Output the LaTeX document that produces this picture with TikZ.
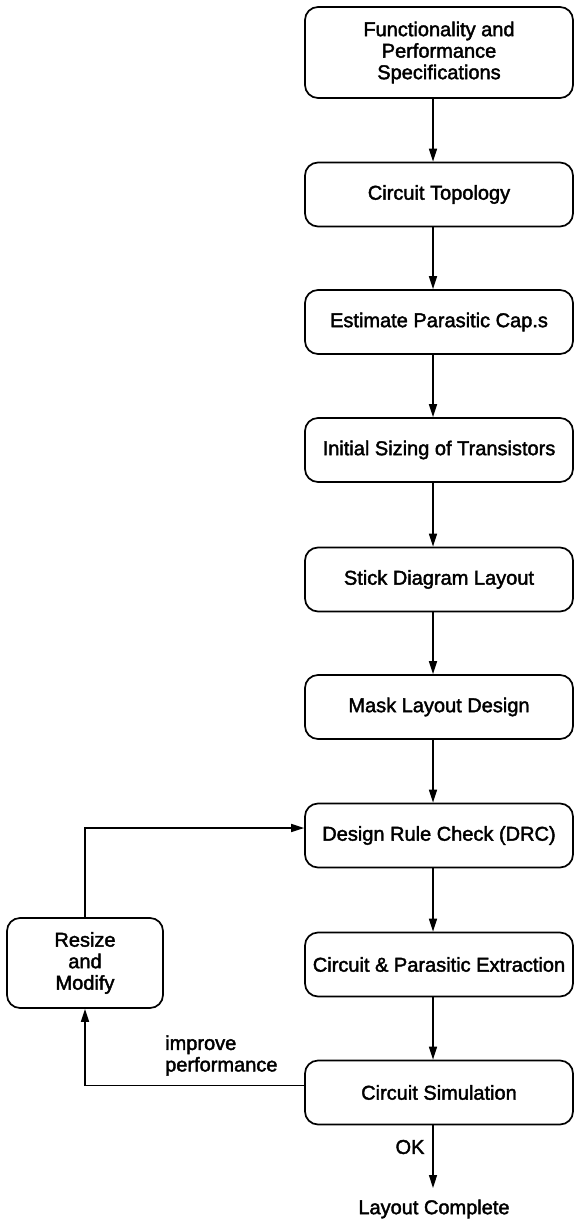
\documentclass[tikz,border=0pt]{standalone}
\usepackage{fontspec}
\setmainfont{Liberation Sans}[FakeBold=2]
\usetikzlibrary{arrows.meta}
\begin{document}
\begin{tikzpicture}[x=1pt,y=-1pt,
  box/.style={draw,line width=1.7pt,rounded corners=13pt,minimum width=268pt,minimum height=64pt,inner sep=0pt,align=center,font=\fontsize{20}{21.5}\selectfont},
  lbl/.style={inner sep=0pt,align=center,font=\fontsize{20}{21.5}\selectfont},
  arr/.style={line width=1.5pt,-{Triangle[length=13pt,width=8pt]}}]
\useasboundingbox (0,0) rectangle (574,1226);
\node[box,minimum height=91pt] (b1) at (439,52.5) {Functionality and\\Performance\\Specifications};
\node[box] (b2) at (439,194.5) {Circuit Topology};
\node[box] (b3) at (439,322) {Estimate Parasitic Cap.s};
\node[box] (b4) at (439,450) {Initial Sizing of Transistors};
\node[box] (b5) at (439,579.5) {Stick Diagram Layout};
\node[box] (b6) at (439,707) {Mask Layout Design};
\node[box] (b7) at (439,835.5) {Design Rule Check (DRC)};
\node[box] (b8) at (439,964.5) {Circuit \& Parasitic Extraction};
\node[box] (b9) at (439,1092.5) {Circuit Simulation};
\node[box,minimum width=156pt,minimum height=90pt] (rs) at (85,963) {Resize\\and\\Modify};
\node[lbl,align=left,anchor=west] (ip) at (165,1055.5) {improve\\performance};
\node[lbl] (ok) at (410,1147) {OK};
\node[lbl] (lc) at (434,1209) {Layout Complete};
\coordinate (end) at (433,1188);
\foreach \a/\b in {b1/b2,b2/b3,b3/b4,b4/b5,b5/b6,b6/b7,b7/b8,b8/b9}
  \draw[arr] ([xshift=-6pt]\a.south) -- ([xshift=-6pt]\b.north);
\draw[arr] ([xshift=-6pt]b9.south) -- (end);
\draw[arr] ([yshift=7pt]b9.west) -| (rs.south);
\draw[arr] (rs.north) |- ([yshift=7.5pt]b7.west);
\end{tikzpicture}
\end{document}
